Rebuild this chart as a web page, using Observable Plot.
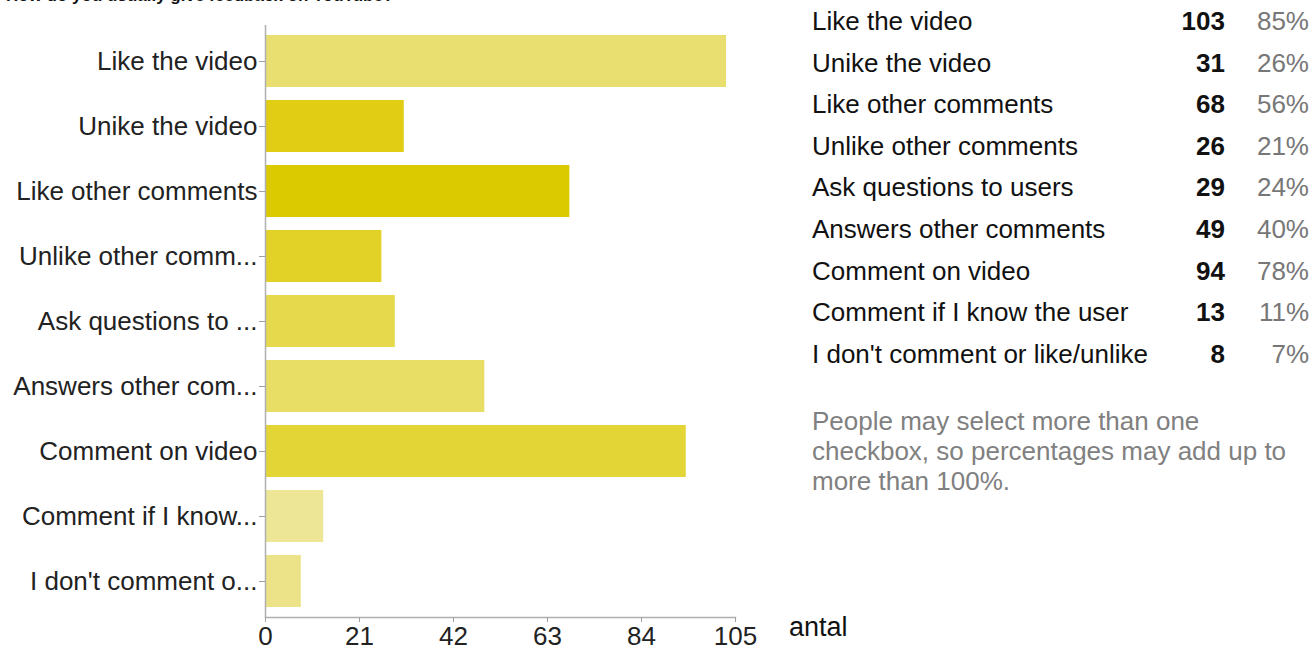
<!DOCTYPE html>
<html>
<head>
<meta charset="utf-8">
<script src="https://cdn.jsdelivr.net/npm/d3@7"></script>
<script src="https://cdn.jsdelivr.net/npm/@observablehq/plot@0.6"></script>
<style>
  html, body { margin: 0; padding: 0; background: #fff; overflow: hidden; }
  body { width: 1315px; height: 650px; position: relative; font-family: "Liberation Sans", Arial, sans-serif; }
  #title { position: absolute; left: 6px; top: -13px; font-size: 17px; font-weight: bold; color: #111; line-height: 18px; white-space: nowrap; }
  #chart { position: absolute; left: 0; top: 0; }
  .row { position: absolute; left: 812px; width: 500px; height: 30px; font-size: 26px; line-height: 30px; white-space: nowrap; }
  .row .lab { position: absolute; left: 0; color: #111; }
  .row .cnt { position: absolute; right: 87px; font-weight: bold; color: #111; }
  .row .pct { position: absolute; right: 3px; color: #777; }
  #note { position: absolute; left: 812px; top: 406px; width: 500px; font-size: 26px; line-height: 30px; color: #808080; }
  #antal { position: absolute; left: 789px; top: 610px; font-size: 27px; line-height: 34px; color: #111; }
</style>
</head>
<body>
<div id="title">How do you usually give feedback on YouTube?</div>
<div id="chart"></div>
<div id="table"></div>
<div id="note"></div>
<div id="antal">antal</div>
<script>
const categories = [
  "Like the video",
  "Unike the video",
  "Like other comments",
  "Unlike other comments",
  "Ask questions to users",
  "Answers other comments",
  "Comment on video",
  "Comment if I know the user",
  "I don't comment or like/unlike"
];
const axisLabels = [
  "Like the video",
  "Unike the video",
  "Like other comments",
  "Unlike other comm...",
  "Ask questions to ...",
  "Answers other com...",
  "Comment on video",
  "Comment if I know...",
  "I don't comment o..."
];
const counts = [103, 31, 68, 26, 29, 49, 94, 13, 8];
const percents = ["85%", "26%", "56%", "21%", "24%", "40%", "78%", "11%", "7%"];
const barColors = ["#e9df70", "#e0cd14", "#dbca00", "#e2d126", "#e6d94c", "#e8de66", "#e3d535", "#eee697", "#ece389"];
const xTicks = [0, 21, 42, 63, 84, 105];
const noteText = "People may select more than one checkbox, so percentages may add up to more than 100%.";

const data = categories.map((c, i) => ({ cat: c, short: axisLabels[i], n: counts[i], color: barColors[i] }));
const shortOf = new Map(categories.map((c, i) => [c, axisLabels[i]]));

const chart = Plot.plot({
  width: 780,
  height: 650,
  marginLeft: 265,
  marginRight: 45,
  marginTop: 25,
  marginBottom: 33,
  style: { fontFamily: "'Liberation Sans', Arial, sans-serif", fontSize: "26px", color: "#222", background: "transparent", overflow: "visible" },
  x: { domain: [0, 105], ticks: xTicks, label: null },
  y: { domain: categories, paddingInner: 0.2, paddingOuter: 0.12, label: null },
  marks: [
    Plot.barX(data, { x: "n", y: "cat", fill: "color" }),
    Plot.ruleX([0], { stroke: "#b0b0b0", strokeWidth: 1.5 }),
    Plot.frame({ anchor: "bottom", stroke: "#b0b0b0", strokeWidth: 1.5 }),
    Plot.axisX({ ticks: xTicks, tickSize: 5, tickPadding: 4, stroke: "#a0a0a0", fill: "#222", label: null }),
    Plot.axisY({ tickSize: 6, tickPadding: 2, stroke: "#a0a0a0", fill: "#222", tickFormat: d => shortOf.get(d), label: null })
  ]
});
document.getElementById("chart").appendChild(chart);

const table = document.getElementById("table");
categories.forEach((c, i) => {
  const row = document.createElement("div");
  row.className = "row";
  row.style.top = (6 + i * 41.6) + "px";
  row.innerHTML = `<span class="lab"></span><span class="cnt"></span><span class="pct"></span>`;
  row.querySelector(".lab").textContent = c;
  row.querySelector(".cnt").textContent = counts[i];
  row.querySelector(".pct").textContent = percents[i];
  table.appendChild(row);
});
document.getElementById("note").textContent = noteText;
</script>
</body>
</html>
